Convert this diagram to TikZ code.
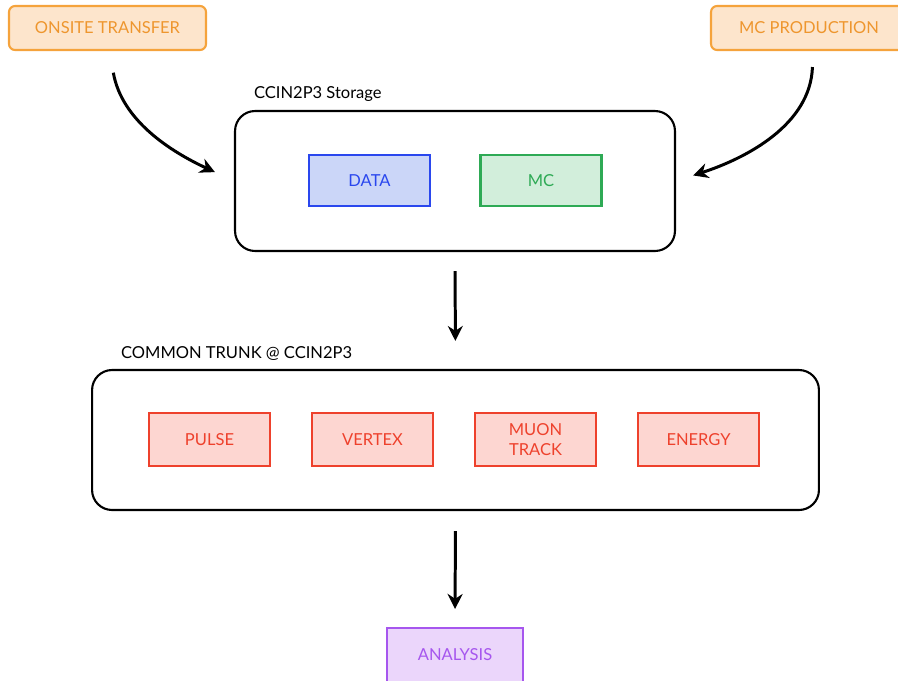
\documentclass[tikz,border=0pt]{standalone}
\usepackage{fontspec}
\setmainfont{Lato}
\usetikzlibrary{arrows.meta}
\definecolor{obord}{HTML}{F5A33C}
\definecolor{ofill}{HTML}{FDE5CC}
\definecolor{otext}{HTML}{EE962E}
\definecolor{bbord}{HTML}{2A47EE}
\definecolor{bfill}{HTML}{CBD6F8}
\definecolor{gbord}{HTML}{2EAA55}
\definecolor{gfill}{HTML}{D2EEDB}
\definecolor{rbord}{HTML}{EE412C}
\definecolor{rfill}{HTML}{FDD6D1}
\definecolor{pbord}{HTML}{A656EE}
\definecolor{pfill}{HTML}{EBD6FB}
\tikzset{
  src/.style={draw=obord,fill=ofill,text=otext,line width=1.2pt,rounded corners=0.12cm,minimum height=0.88cm},
  store/.style={draw=black,line width=1.2pt,rounded corners=0.4cm,minimum height=2.8cm},
  algo/.style={draw=rbord,fill=rfill,text=rbord,line width=1.2pt,minimum width=2.42cm,minimum height=1.06cm,align=center,font=\fontsize{9.4pt}{11.4pt}\selectfont},
  flow/.style={-{Stealth[length=0.3cm,width=0.3cm]},line width=1.7pt}
}
\begin{document}
\begin{tikzpicture}[x=0.02cm,y=-0.02cm,font=\fontsize{9.4pt}{11pt}\selectfont]
  \clip (0,0) rectangle (898,680);
  %sorgenti
  \node[src,minimum width=3.94cm] (onsite) at (107.5,28) {ONSITE TRANSFER};
  \node[src,minimum width=3.92cm] (mcprod) at (809,28) {MC PRODUCTION};
  %storage
  \node[store,minimum width=8.8cm] (storage) at (455,181) {};
  \node[anchor=south west,inner sep=1pt] (storlabel) at ([xshift=0.36cm,yshift=0.12cm]storage.north west) {CCIN2P3 Storage};
  \node[draw=bbord,fill=bfill,text=bbord,line width=1.2pt,minimum width=2.42cm,minimum height=1.02cm] (data) at (369.5,180.5) {DATA};
  \node[draw=gbord,fill=gfill,text=gbord,line width=1.2pt,minimum width=2.42cm,minimum height=1.02cm] (mc) at (541,180.5) {MC};
  %common trunk
  \node[store,minimum width=14.54cm] (trunk) at (455.5,440) {};
  \node[anchor=south west,inner sep=1pt] (trunklabel) at ([xshift=0.56cm,yshift=0.12cm]trunk.north west) {COMMON TRUNK @ CCIN2P3};
  \node[algo] (pulse) at (209.5,439.5) {PULSE};
  \node[algo] (vertex) at (372.5,439.5) {VERTEX};
  \node[algo] (muon) at (535.5,439.5) {MUON\\TRACK};
  \node[algo] (energy) at (698.5,439.5) {ENERGY};
  %analisi
  \node[draw=pbord,fill=pfill,text=pbord,line width=1.2pt,minimum width=2.72cm,minimum height=1.08cm] (analysis) at (455,655) {ANALYSIS};
  %frecce
  \draw[flow,shorten <=0.44cm,shorten >=0.42cm] ([xshift=0.04cm]onsite.south) to[out=-80,in=155] (storage.west);
  \draw[flow,shorten <=0.32cm,shorten >=0.36cm] ([xshift=0.08cm]mcprod.south) to[out=-92,in=18] (storage.east);
  \draw[flow,shorten <=0.38cm,shorten >=0.56cm] (storage.south) -- (trunk.north);
  \draw[flow,shorten <=0.4cm,shorten >=0.36cm] (trunk.south) -- (analysis.north);
\end{tikzpicture}
\end{document}
